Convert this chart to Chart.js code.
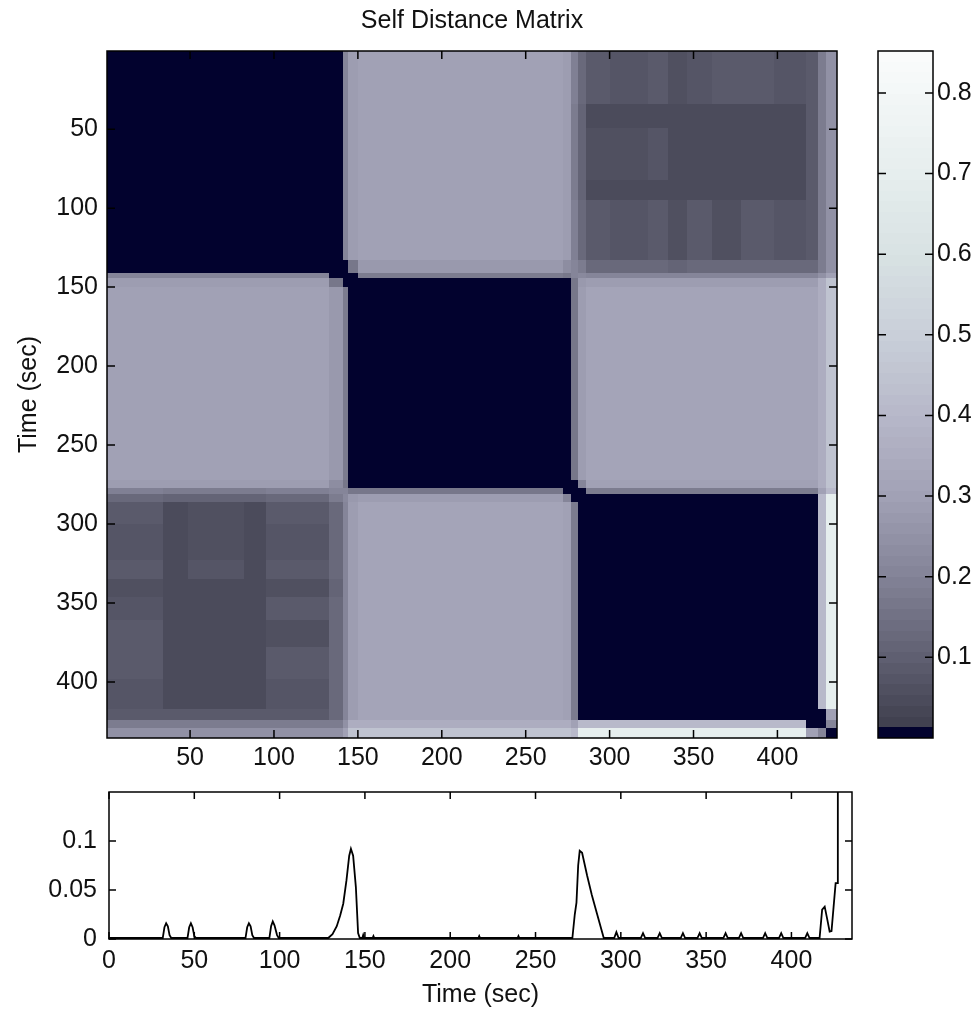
<!DOCTYPE html>
<html>
<head>
<meta charset="utf-8">
<title>Self Distance Matrix</title>
<script src="https://cdn.jsdelivr.net/npm/chart.js@4.4.1/dist/chart.umd.min.js"></script>
<style>
  body { margin: 0; background: #fff; }
  .layer { position: absolute; left: 0; top: 0; }
</style>
</head>
<body>
<canvas id="matrixChart" class="layer" width="974" height="1011"></canvas>
<canvas id="colorbarChart" class="layer" width="974" height="1011"></canvas>
<canvas id="noveltyChart" class="layer" width="974" height="1011"></canvas>
<script>
// Segment edges in seconds (shared by rows and columns of the matrix)
const segEdges = [0.5, 8, 34, 49, 82, 95, 133, 141, 144, 150, 272, 277, 281,
                  286, 300, 323, 335, 346, 361, 378, 398, 417, 424, 429, 435.5];

// Lower triangle of the symmetric self distance matrix (row i has i+1 values)
const distLower = [
  [0.005],
  [0.005, 0.005],
  [0.005, 0.005, 0.005],
  [0.005, 0.005, 0.005, 0.005],
  [0.005, 0.005, 0.005, 0.005, 0.005],
  [0.005, 0.005, 0.005, 0.005, 0.005, 0.005],
  [0.005, 0.005, 0.005, 0.005, 0.005, 0.005, 0.005],
  [0.21, 0.21, 0.21, 0.21, 0.21, 0.21, 0.01, 0.005],
  [0.29, 0.29, 0.29, 0.29, 0.29, 0.28, 0.17, 0.01, 0.005],
  [0.3, 0.3, 0.3, 0.3, 0.3, 0.3, 0.27, 0.18, 0.005, 0.005],
  [0.28, 0.28, 0.28, 0.28, 0.28, 0.28, 0.23, 0.17, 0.005, 0.005, 0.005],
  [0.19, 0.19, 0.18, 0.18, 0.18, 0.19, 0.2, 0.2, 0.16, 0.16, 0.01, 0.005],
  [0.12, 0.12, 0.11, 0.11, 0.11, 0.12, 0.18, 0.22, 0.27, 0.29, 0.2, 0.01, 0.005],
  [0.08, 0.08, 0.05, 0.055, 0.05, 0.08, 0.13, 0.21, 0.29, 0.31, 0.3, 0.18, 0.005, 0.005],
  [0.075, 0.075, 0.045, 0.065, 0.045, 0.075, 0.12, 0.21, 0.29, 0.31, 0.3, 0.18, 0.005, 0.005, 0.005],
  [0.085, 0.085, 0.05, 0.07, 0.05, 0.085, 0.12, 0.21, 0.29, 0.31, 0.3, 0.18, 0.005, 0.005, 0.005, 0.005],
  [0.055, 0.055, 0.04, 0.04, 0.04, 0.055, 0.11, 0.21, 0.29, 0.31, 0.3, 0.18, 0.005, 0.005, 0.005, 0.005, 0.005],
  [0.075, 0.075, 0.045, 0.045, 0.045, 0.08, 0.12, 0.21, 0.29, 0.31, 0.3, 0.18, 0.005, 0.005, 0.005, 0.005, 0.005, 0.005],
  [0.08, 0.08, 0.045, 0.045, 0.045, 0.06, 0.12, 0.21, 0.29, 0.31, 0.3, 0.18, 0.005, 0.005, 0.005, 0.005, 0.005, 0.005, 0.005],
  [0.08, 0.08, 0.045, 0.045, 0.045, 0.085, 0.12, 0.21, 0.29, 0.31, 0.3, 0.18, 0.005, 0.005, 0.005, 0.005, 0.005, 0.005, 0.005, 0.005],
  [0.075, 0.075, 0.045, 0.045, 0.045, 0.075, 0.12, 0.21, 0.29, 0.31, 0.3, 0.18, 0.005, 0.005, 0.005, 0.005, 0.005, 0.005, 0.005, 0.005, 0.005],
  [0.09, 0.09, 0.09, 0.09, 0.09, 0.09, 0.13, 0.21, 0.29, 0.31, 0.3, 0.18, 0.005, 0.005, 0.005, 0.005, 0.005, 0.005, 0.005, 0.005, 0.005, 0.005],
  [0.18, 0.18, 0.18, 0.18, 0.18, 0.18, 0.18, 0.24, 0.35, 0.35, 0.35, 0.3, 0.4, 0.4, 0.4, 0.4, 0.4, 0.4, 0.4, 0.4, 0.4, 0.005, 0.005],
  [0.24, 0.24, 0.24, 0.24, 0.24, 0.24, 0.24, 0.3, 0.45, 0.45, 0.45, 0.4, 0.7, 0.7, 0.7, 0.7, 0.7, 0.7, 0.7, 0.7, 0.7, 0.3, 0.2, 0.005]
];

const matrixTicks = [50, 100, 150, 200, 250, 300, 350, 400];
const colorbarTicks = [0.1, 0.2, 0.3, 0.4, 0.5, 0.6, 0.7, 0.8];

// Novelty curve below the matrix
const noveltyTime = [
  0, 31.5, 32.5, 33.5, 34.5, 35.5, 36.5,
  46, 47, 48, 49, 50, 51,
  80, 81, 82, 83, 84, 85,
  94, 95, 96, 97, 98.5, 99.5,
  128.5, 131, 133.5, 135.5, 137.3, 139.2, 140.8, 141.8, 143.1, 144.7, 146, 147,
  148.5, 149, 149.5, 154.5, 155, 155.5,
  216.5, 217, 217.5, 239.5, 240, 240.5,
  271.6, 273, 274, 275, 275.9, 277.3, 280.2, 283, 286, 290,
  296.1, 297.4, 298.7, 311.7, 313, 314.3, 321.5, 322.8, 324.1,
  335.1, 336.4, 337.7, 344.9, 346.2, 347.5, 360.1, 361.4, 362.7,
  369.2, 370.5, 371.8, 383.3, 384.6, 385.9, 392.7, 394, 395.3,
  408, 409.3, 410.6,
  416.5, 418, 419.5, 421, 422.4, 423.5, 425.9, 426.9, 427.2, 435.5
];
const noveltyValue = [
  0.001, 0.001, 0.012, 0.016, 0.013, 0.004, 0.001,
  0.001, 0.012, 0.016, 0.012, 0.003, 0.001,
  0.001, 0.012, 0.016, 0.013, 0.004, 0.001,
  0.001, 0.013, 0.018, 0.014, 0.004, 0.001,
  0.001, 0.005, 0.013, 0.024, 0.036, 0.06, 0.085, 0.092, 0.085, 0.053, 0.006, 0.001,
  0.001, 0.004, 0.001, 0.001, 0.003, 0.001,
  0.001, 0.003, 0.001, 0.001, 0.003, 0.001,
  0.001, 0.025, 0.037, 0.075, 0.09, 0.088, 0.065, 0.045, 0.026, 0.001,
  0.001, 0.007, 0.001, 0.001, 0.006, 0.001, 0.001, 0.006, 0.001,
  0.001, 0.006, 0.001, 0.001, 0.006, 0.001, 0.001, 0.006, 0.001,
  0.001, 0.006, 0.001, 0.001, 0.006, 0.001, 0.001, 0.006, 0.001,
  0.001, 0.006, 0.001,
  0.001, 0.03, 0.033, 0.02, 0.0075, 0.008, 0.057, 0.057, 0.4, 0.4
];
const noveltyXTicks = [0, 50, 100, 150, 200, 250, 300, 350, 400];
const noveltyYTicks = [0, 0.05, 0.1];

// Colour map: 64 levels, first one navy, the rest a bone-like grey ramp
const cmapLimits = [0, 0.852];
const cmapSize = 64;
const cmapFirst = [2, 2, 46];
const cmapStops = [
  [0.0, [58, 58, 72]],
  [0.05, [76, 76, 92]],
  [0.1, [95, 95, 113]],
  [0.2, [131, 131, 151]],
  [0.3, [161, 161, 181]],
  [0.4, [183, 184, 201]],
  [0.5, [201, 207, 217]],
  [0.6, [216, 226, 227]],
  [0.7, [230, 238, 238]],
  [0.8, [243, 247, 247]],
  [0.852, [251, 252, 252]]
];

function levelColor(k) {
  if (k === 0) return `rgb(${cmapFirst.join(',')})`;
  const v = cmapLimits[0] + (k + 0.5) / cmapSize * (cmapLimits[1] - cmapLimits[0]);
  let i = 0;
  while (i < cmapStops.length - 2 && v > cmapStops[i + 1][0]) i++;
  const [v0, c0] = cmapStops[i];
  const [v1, c1] = cmapStops[i + 1];
  const t = Math.max(0, Math.min(1, (v - v0) / (v1 - v0)));
  const c = c0.map((ch, n) => Math.round(ch + (c1[n] - ch) * t));
  return `rgb(${c.join(',')})`;
}

function valueColor(v) {
  let k = Math.floor((v - cmapLimits[0]) / (cmapLimits[1] - cmapLimits[0]) * cmapSize);
  k = Math.max(0, Math.min(cmapSize - 1, k));
  return levelColor(k);
}

Chart.defaults.font.family = "'Liberation Sans', Arial, sans-serif";
Chart.defaults.font.size = 25;
Chart.defaults.color = '#111';

// Box around the axes with inward tick marks on all sides (MATLAB look)
const framePlugin = {
  id: 'frame',
  afterDraw(chart, args, opts) {
    const { ctx, chartArea: a, scales } = chart;
    const len = opts.tickLength || 8;
    ctx.save();
    ctx.strokeStyle = '#000';
    ctx.lineWidth = 1.5;
    ctx.beginPath();
    Object.values(scales).forEach(s => {
      if (!s.options.display) return;
      s.ticks.forEach(t => {
        const p = s.getPixelForValue(t.value);
        if (s.isHorizontal()) {
          ctx.moveTo(p, a.bottom); ctx.lineTo(p, a.bottom - len);
          ctx.moveTo(p, a.top); ctx.lineTo(p, a.top + len);
        } else {
          ctx.moveTo(a.left, p); ctx.lineTo(a.left + len, p);
          ctx.moveTo(a.right, p); ctx.lineTo(a.right - len, p);
        }
      });
    });
    ctx.stroke();
    ctx.strokeRect(a.left, a.top, a.width, a.height);
    ctx.restore();
  }
};

// Matrix cells, placed through the chart's x and y scales
const matrixPlugin = {
  id: 'matrixCells',
  beforeDatasetsDraw(chart) {
    const { ctx, chartArea: a, scales: { x, y } } = chart;
    const n = segEdges.length - 1;
    ctx.save();
    ctx.beginPath();
    ctx.rect(a.left, a.top, a.width, a.height);
    ctx.clip();
    for (let i = 0; i < n; i++) {
      const ya = Math.round(y.getPixelForValue(segEdges[i]));
      const yb = Math.round(y.getPixelForValue(segEdges[i + 1]));
      for (let j = 0; j < n; j++) {
        const v = i >= j ? distLower[i][j] : distLower[j][i];
        const xa = Math.round(x.getPixelForValue(segEdges[j]));
        const xb = Math.round(x.getPixelForValue(segEdges[j + 1]));
        ctx.fillStyle = valueColor(v);
        ctx.fillRect(xa, Math.min(ya, yb), xb - xa, Math.abs(yb - ya));
      }
    }
    ctx.restore();
  }
};

// Colour bar bands, placed through the colour bar's y scale
const colorbarPlugin = {
  id: 'colorbarBands',
  beforeDatasetsDraw(chart) {
    const { ctx, chartArea: a, scales: { y } } = chart;
    const step = (cmapLimits[1] - cmapLimits[0]) / cmapSize;
    for (let k = 0; k < cmapSize; k++) {
      const top = Math.round(y.getPixelForValue(cmapLimits[0] + (k + 1) * step));
      const bot = Math.round(y.getPixelForValue(cmapLimits[0] + k * step));
      ctx.fillStyle = levelColor(k);
      ctx.fillRect(a.left, top, a.width, bot - top);
    }
  }
};

const setTicks = list => scale => { scale.ticks = list.map(v => ({ value: v })); };
const noGrid = { display: false, drawTicks: false };
const noBorder = { display: false };

// Self distance matrix
new Chart(document.getElementById('matrixChart'), {
  type: 'scatter',
  data: { datasets: [] },
  options: {
    responsive: false,
    animation: false,
    events: [],
    layout: { padding: { left: 0, right: 137, top: 0, bottom: 213 }, autoPadding: false },
    plugins: {
      legend: { display: false },
      tooltip: { enabled: false },
      title: {
        display: true,
        text: 'Self Distance Matrix',
        fullSize: false,
        color: '#111',
        font: { size: 25, weight: 'normal' },
        padding: { top: 6.5, bottom: 14.5 }
      },
      frame: { tickLength: 8 }
    },
    scales: {
      x: {
        type: 'linear', min: 0.5, max: 435.5,
        afterBuildTicks: setTicks(matrixTicks),
        afterFit: s => { s.height = 60; },
        grid: noGrid, border: noBorder,
        ticks: { padding: 5, maxRotation: 0, autoSkip: false, callback: v => String(v) }
      },
      y: {
        type: 'linear', min: 0.5, max: 435.5, reverse: true,
        afterBuildTicks: setTicks(matrixTicks),
        afterFit: s => { s.width = 107; },
        grid: noGrid, border: noBorder,
        ticks: { padding: 9, autoSkip: false, callback: v => String(v) },
        title: { display: true, text: 'Time (sec)', font: { size: 25 }, padding: { top: 14, bottom: 0 } }
      }
    }
  },
  plugins: [matrixPlugin, framePlugin]
});

// Colour bar
new Chart(document.getElementById('colorbarChart'), {
  type: 'scatter',
  data: { datasets: [] },
  options: {
    responsive: false,
    animation: false,
    events: [],
    layout: { padding: { left: 878, right: 0, top: 51, bottom: 273 }, autoPadding: false },
    plugins: { legend: { display: false }, tooltip: { enabled: false }, frame: { tickLength: 8 } },
    scales: {
      x: { type: 'linear', min: 0, max: 1, display: false },
      y: {
        type: 'linear', position: 'right', min: cmapLimits[0], max: cmapLimits[1],
        afterBuildTicks: setTicks(colorbarTicks),
        afterFit: s => { s.width = 41; },
        grid: noGrid, border: noBorder,
        ticks: { padding: 4, autoSkip: false, callback: v => String(v) }
      }
    }
  },
  plugins: [colorbarPlugin, framePlugin]
});

// Novelty curve
new Chart(document.getElementById('noveltyChart'), {
  type: 'line',
  data: {
    datasets: [{
      data: noveltyTime.map((t, i) => ({ x: t, y: noveltyValue[i] })),
      borderColor: '#000',
      borderWidth: 1.8,
      pointRadius: 0,
      tension: 0,
      fill: false
    }]
  },
  options: {
    responsive: false,
    animation: false,
    events: [],
    layout: { padding: { left: 0, right: 122, top: 792, bottom: 0 }, autoPadding: false },
    plugins: { legend: { display: false }, tooltip: { enabled: false }, frame: { tickLength: 7 } },
    scales: {
      x: {
        type: 'linear', min: 0, max: 435.5,
        afterBuildTicks: setTicks(noveltyXTicks),
        afterFit: s => { s.height = 72; },
        grid: noGrid, border: noBorder,
        ticks: { padding: 7, maxRotation: 0, autoSkip: false, callback: v => String(v) },
        title: { display: true, text: 'Time (sec)', font: { size: 25 }, padding: { top: 0, bottom: 1 } }
      },
      y: {
        type: 'linear', min: 0, max: 0.15,
        afterBuildTicks: setTicks(noveltyYTicks),
        afterFit: s => { s.width = 109; },
        grid: noGrid, border: noBorder,
        ticks: { padding: 12, autoSkip: false, callback: v => String(v) }
      }
    }
  },
  plugins: [framePlugin]
});
</script>
</body>
</html>
